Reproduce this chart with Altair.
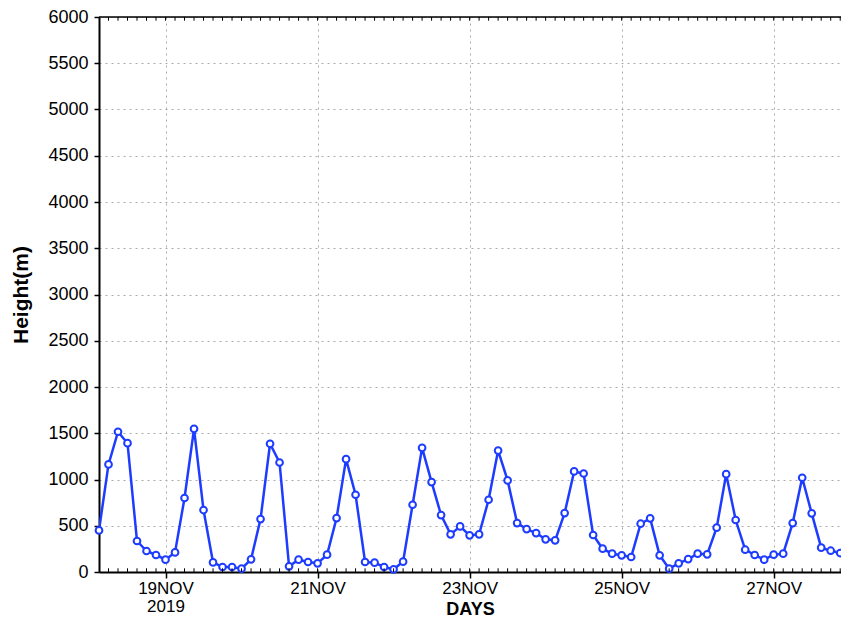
import altair as alt
import pandas as pd

# Heights (m) every 3 hours, starting 18NOV2019 03Z
heights = [450, 1163, 1516, 1393, 335, 227, 184, 133, 212, 800,
           1548, 670, 104, 54, 54, 36, 137, 572, 1386, 1184,
           61, 133, 108, 94, 187, 583, 1220, 835, 108, 101,
           54, 29, 112, 727, 1342, 972, 615, 407, 493, 396,
           407, 781, 1313, 990, 529, 464, 421, 353, 342, 637,
           1087, 1065, 400, 252, 198, 180, 162, 522, 580, 180,
           36, 94, 140, 198, 191, 479, 1058, 562, 241, 184,
           133, 187, 198, 529, 1019, 634, 263, 230, 205, 245]
start_time = "2019-11-18T03:00:00Z"
step_hours = 3
view_end = "2019-11-27T21:15:00Z"   # right edge of the visible window
tick_days = ["2019-11-19", "2019-11-21", "2019-11-23", "2019-11-25", "2019-11-27"]
y_ticks = list(range(0, 6001, 500))

times = pd.date_range(start_time, periods=len(heights), freq=f"{step_hours}h")
df = pd.DataFrame({"time": [t.strftime("%Y-%m-%dT%H:%M:%SZ") for t in times],
                   "height": heights})

t0 = int(times[0].value // 10**6)
t1 = int(pd.Timestamp(view_end).value // 10**6)
tick_vals = [int(pd.Timestamp(d + "T00:00:00Z").value // 10**6) for d in tick_days]

BLUE = "#1e3cff"
FONT = "Liberation Sans"

xscale = alt.Scale(type="utc", domain=[t0, t1], nice=False)
yscale = alt.Scale(domain=[0, 6000], nice=False, zero=True)

label_expr = ("utcFormat(datum.value, '%d') == '19' ? "
              "[upper(utcFormat(datum.value, '%d%b')), '2019'] : "
              "upper(utcFormat(datum.value, '%d%b'))")

x_axis = alt.Axis(values=tick_vals, labelExpr=label_expr, title="DAYS",
                  grid=True, gridColor="#aaaaaa", gridDash=[2, 4], gridWidth=1,
                  domainColor="black", domainWidth=2, tickColor="black",
                  tickSize=6, tickWidth=1.5, labelFont=FONT, labelFontSize=17,
                  labelColor="black", labelPadding=2, labelLineHeight=18,
                  labelFlush=False, labelOverlap=False,
                  titleFont=FONT, titleFontSize=18, titleFontWeight="bold",
                  titleColor="black", titleBaseline="alphabetic", titleY=42)

y_axis = alt.Axis(values=y_ticks, format="d", title="Height(m)",
                  grid=True, gridColor="#aaaaaa", gridDash=[2, 4], gridWidth=1,
                  domainColor="black", domainWidth=2, tickColor="black",
                  tickSize=5, tickWidth=1.5, labelFont=FONT, labelFontSize=18,
                  labelColor="black", labelPadding=6, labelFlush=False,
                  labelOverlap=False,
                  titleFont=FONT, titleFontSize=21, titleFontWeight="bold",
                  titleColor="black", titlePadding=16)

base = alt.Chart(df)

line = base.mark_line(color=BLUE, strokeWidth=2.5, clip=True).encode(
    x=alt.X("time:T", scale=xscale, axis=x_axis),
    y=alt.Y("height:Q", scale=yscale, axis=y_axis),
)

points = base.mark_point(shape="circle", filled=False, fill="white", fillOpacity=1,
                         color=BLUE, strokeWidth=2, size=45, opacity=1).encode(
    x=alt.X("time:T", scale=xscale, axis=None),
    y=alt.Y("height:Q", scale=yscale, axis=None),
)

top_line = alt.Chart(pd.DataFrame({"v": [6000]})).mark_rule(
    color="black", strokeWidth=1.5).encode(y=alt.Y("v:Q", scale=yscale, axis=None))

minor_bottom = base.mark_rule(color="black", strokeWidth=1, clip=True).encode(
    x=alt.X("time:T", scale=xscale, axis=None),
    y=alt.Y("b0:Q", scale=yscale, axis=None),
    y2="b1:Q",
).transform_calculate(b0="0", b1="40")
minor_top = base.mark_rule(color="black", strokeWidth=1, clip=True).encode(
    x=alt.X("time:T", scale=xscale, axis=None),
    y=alt.Y("t0:Q", scale=yscale, axis=None),
    y2="t1:Q",
).transform_calculate(t0="6000", t1="5960")

chart = alt.layer(line, points, top_line, minor_bottom, minor_top).resolve_axis(
    x="independent", y="independent"
).properties(
    width=742, height=555,
    padding={"left": 91, "top": 9, "right": 0, "bottom": 45},
    autosize=alt.AutoSizeParams(type="none"),
).configure_view(stroke=None).configure(background="white")

chart.save("out.html", embed_options={"renderer": "svg", "actions": False})
